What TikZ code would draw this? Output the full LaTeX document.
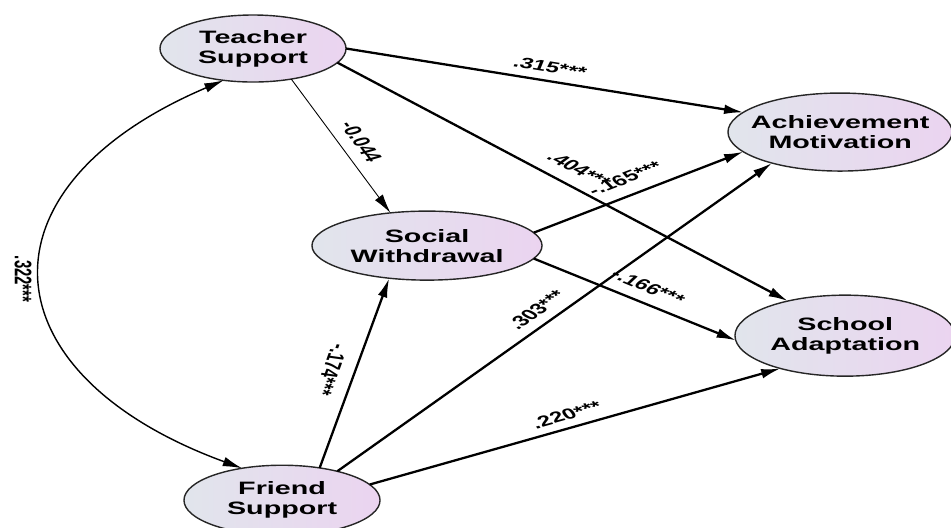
\documentclass[tikz,border=0pt]{standalone}
\usepackage{fontspec}
\setmainfont{Liberation Sans}
\usetikzlibrary{shapes.geometric,arrows.meta}
\definecolor{varleft}{RGB}{225,229,236}
\definecolor{varright}{RGB}{235,212,240}
\begin{document}
\begin{tikzpicture}[x=0.0125cm, y=0.02cm, xscale=1.6, transform shape,
  var/.style={ellipse, draw=black!85, line width=0.8pt, left color=varleft, right color=varright, inner sep=0pt, outer sep=0pt},
  vartext/.style={align=center, font=\bfseries\fontsize{10.2}{11.4}\selectfont},
  effect/.style={-{Latex[length=11pt,width=5.5pt]}, line width=1.3pt},
  coef/.style={font=\bfseries\fontsize{8.5}{10}\selectfont}]
\useasboundingbox (0,0) rectangle (951,527);
\node[var, minimum width=2.325cm, minimum height=1.34cm, label={[vartext]center:Teacher\\Support}] (TS) at (253,478.5) {};
\node[var, minimum width=2.8cm, minimum height=1.56cm, label={[vartext]center:Achievement\\Motivation}] (AM) at (840,395) {};
\node[var, minimum width=2.75cm, minimum height=1.62cm, label={[vartext]center:School\\Adaptation}] (SA) at (845,191.5) {};
\node[var, minimum width=2.875cm, minimum height=1.38cm, label={[vartext]center:Social\\Withdrawal}] (SW) at (427,281.5) {};
\node[var, minimum width=2.45cm, minimum height=1.4cm, label={[vartext]center:Friend\\Support}] (FS) at (282,27) {};
\draw[effect] (TS.east) -- (AM.162) node[coef, pos=.5, rotate=-14.3, above=0.8pt] {.315***};
\draw[effect] (TS.-15) -- (SA.136) node[coef, pos=.5, rotate=-40.3, above=2.2pt] {.404***};
\draw[effect, line width=0.5pt] (TS.-52) -- (SW.125) node[coef, pos=.51, rotate=-65.3, above=1pt] {-0.044};
\draw[effect] (SW.11) -- (AM.198) node[coef, pos=.5, rotate=31.85, above=2.1pt] {-.165***};
\draw[effect] (SW.-11) -- (SA.184) node[coef, pos=.5, rotate=-33.5, above=1.6pt] {-.166***};
\draw[effect] (FS.54) -- (SW.234.5) node[coef, pos=.5, rotate=-102.6, below=1.5pt] {-.174***};
\draw[effect] (FS.40) -- (AM.216.5) node[coef, pos=.495, rotate=48.6, above=0.5pt] {.303***};
\draw[effect] (FS.16) -- (SA.219.5) node[coef, pos=.5, rotate=24.3, above=0.3pt] {.220***};
\draw[{Latex[length=11pt,width=5.5pt]}-{Latex[length=11pt,width=5.5pt]}, line width=0.8pt] (TS.240) .. controls +(-252,-107) and +(-257,94) .. (FS.128) node[coef, pos=.5, rotate=-90, below] {.322***};
\end{tikzpicture}
\end{document}
